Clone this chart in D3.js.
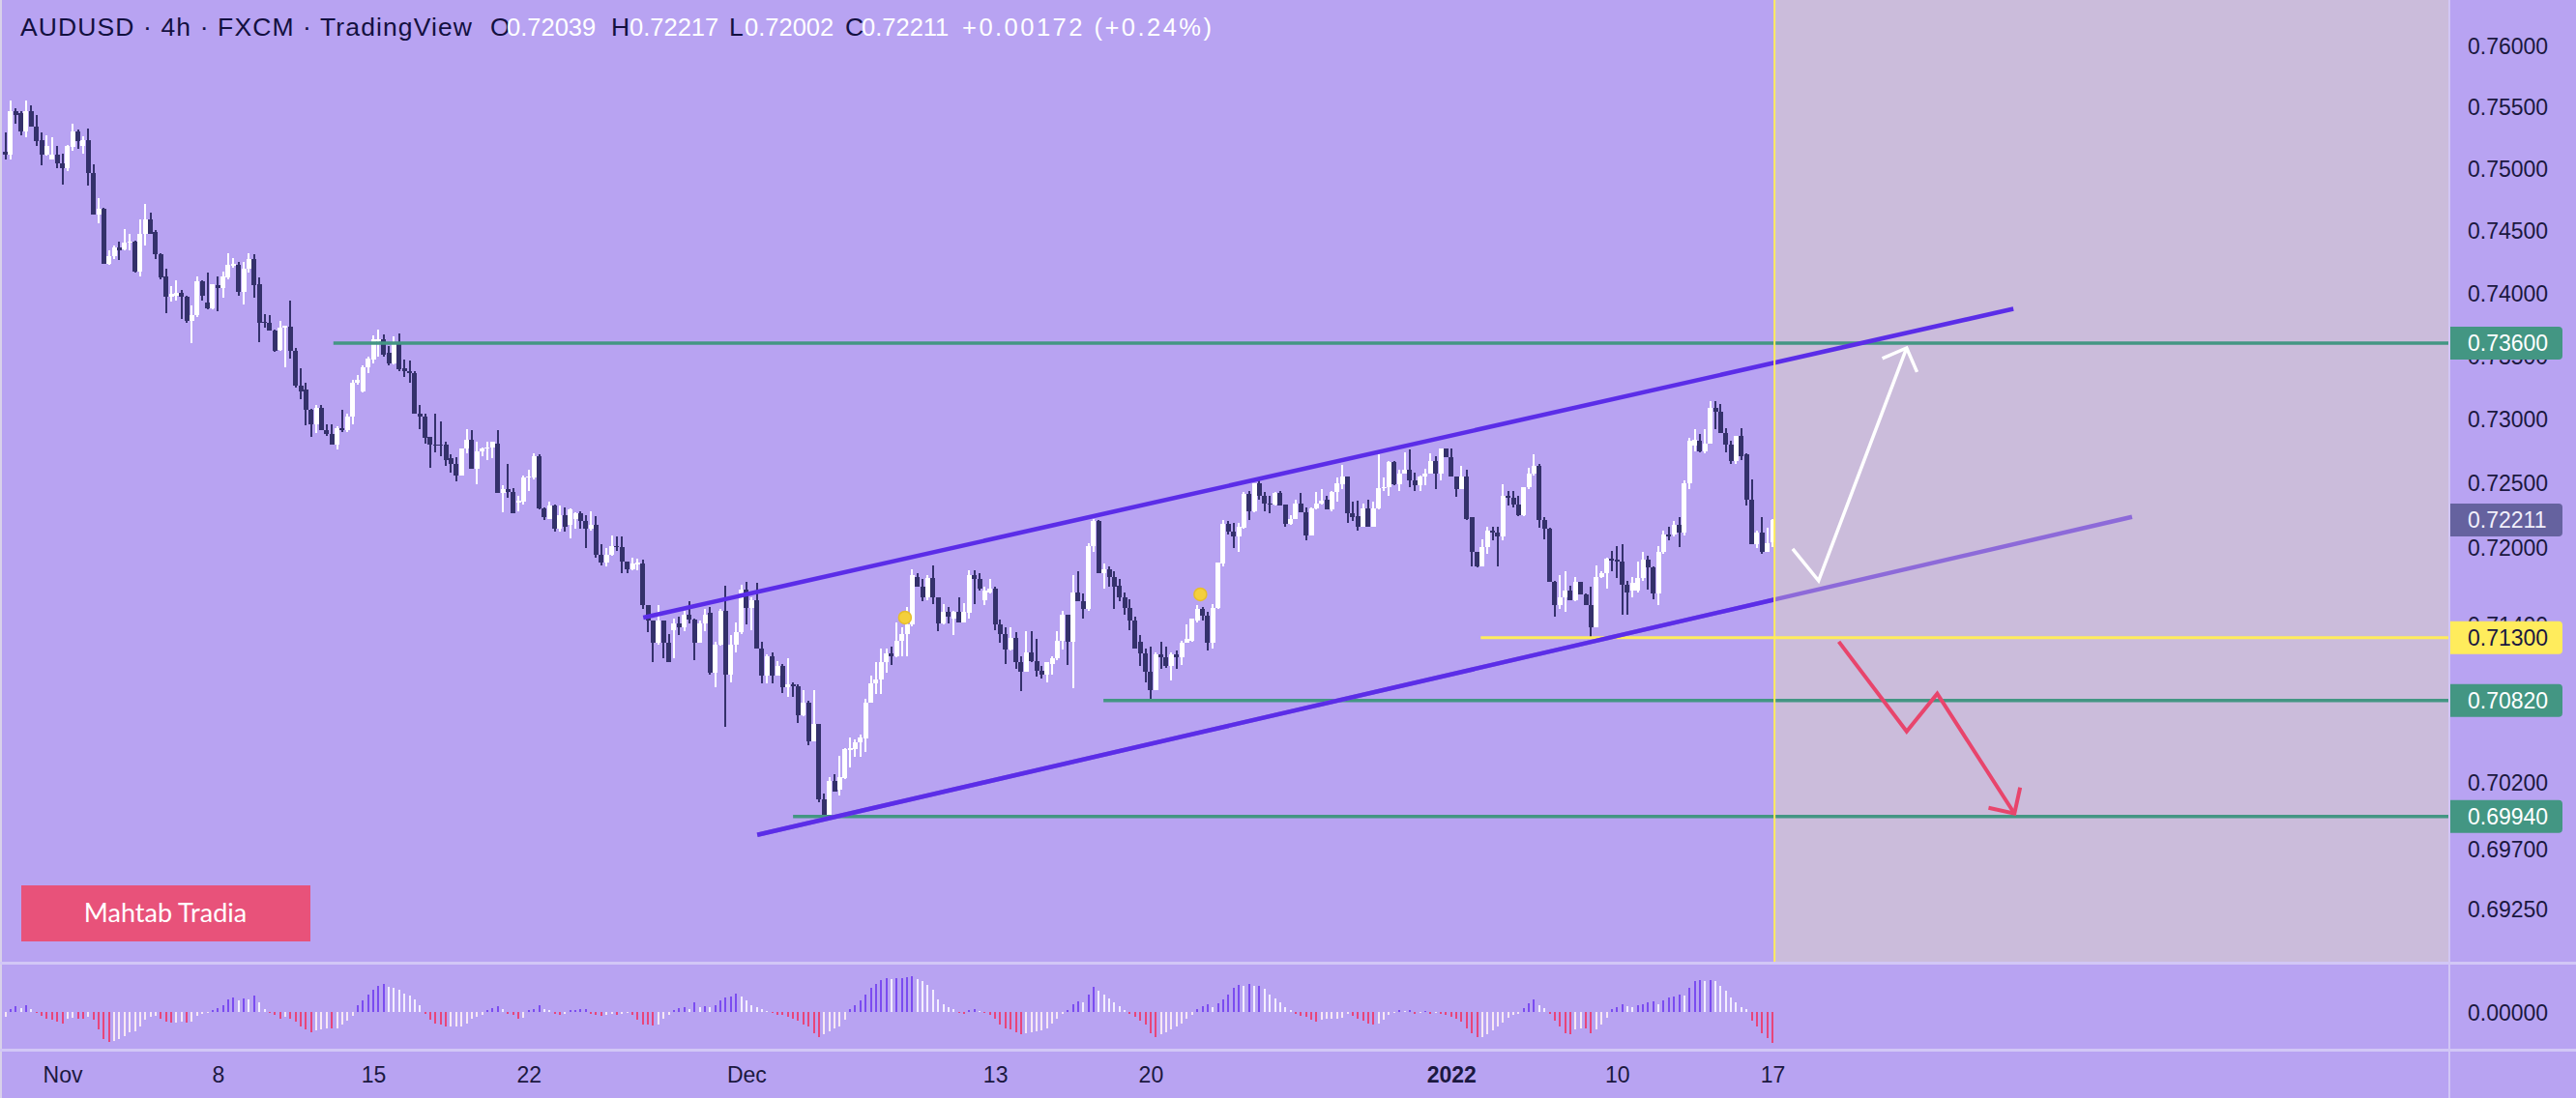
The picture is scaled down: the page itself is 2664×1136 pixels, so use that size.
<!DOCTYPE html>
<html><head><meta charset="utf-8">
<script src="https://cdn.jsdelivr.net/npm/d3@7"></script>
<style>html,body{margin:0;padding:0;background:#b8a3f2;overflow:hidden}</style>
</head><body>
<svg id="c" width="2664" height="1136" xmlns="http://www.w3.org/2000/svg"></svg>
<script>
// ---------------- DATA ----------------
const firstBar = -11; // bar index of first candle (index 0 = 1 Nov)
// [open, high, low, close]
const candles = [
[.7513,.7529,.7507,.7511],[.7511,.7555,.7507,.7546],[.7546,.7549,.7536,.7543],[.7545,.7546,.7527,.7530],[.7530,.7555,.7525,.7546],
[.7546,.7551,.7534,.7534],[.7534,.7543,.7518,.7522],[.7523,.7529,.7502,.7511],[.7511,.7527,.7510,.7518],[.7507,.7525,.7507,.7511],
[.7511,.7518,.7500,.7504],[.7504,.7512,.7487,.7500],[.7500,.7519,.7498,.7518],[.7517,.7536,.7514,.7530],[.7530,.7531,.7516,.7522],
[.7518,.7526,.7512,.7523],[.7523,.7532,.7486,.7496],[.7496,.7503,.7463,.7463],[.7463,.7476,.7456,.7467],[.7467,.7468,.7423,.7423],
[.7423,.7434,.7422,.7429],[.7429,.7438,.7427,.7436],[.7436,.7441,.7426,.7434],[.7435,.7451,.7434,.7440],[.7440,.7447,.7434,.7441],
[.7441,.7442,.7416,.7417],[.7417,.7459,.7413,.7447],[.7447,.7471,.7438,.7459],[.7459,.7464,.7447,.7447],[.7449,.7450,.7427,.7431],
[.7431,.7432,.7411,.7412],[.7413,.7419,.7384,.7397],[.7397,.7405,.7393,.7399],[.7398,.7410,.7394,.7400],[.7400,.7402,.7379,.7397],
[.7397,.7398,.7376,.7378],[.7378,.7390,.7360,.7382],[.7382,.7413,.7381,.7409],[.7409,.7410,.7394,.7398],[.7392,.7416,.7387,.7388],
[.7388,.7407,.7387,.7407],[.7406,.7413,.7385,.7404],[.7404,.7417,.7396,.7413],[.7412,.7432,.7411,.7422],[.7422,.7428,.7420,.7423],
[.7422,.7425,.7398,.7401],[.7401,.7425,.7391,.7419],[.7419,.7432,.7416,.7427],[.7427,.7431,.7396,.7406],[.7407,.7412,.7361,.7376],
[.7377,.7383,.7372,.7376],[.7376,.7382,.7370,.7370],[.7370,.7371,.7353,.7354],[.7355,.7378,.7354,.7372],[.7372,.7374,.7341,.7374],
[.7373,.7394,.7348,.7354],[.7354,.7356,.7325,.7326],[.7326,.7340,.7316,.7322],[.7323,.7329,.7295,.7307],[.7307,.7308,.7286,.7296],
[.7296,.7311,.7289,.7309],[.7309,.7311,.7291,.7291],[.7291,.7296,.7287,.7288],[.7288,.7296,.7280,.7280],[.7280,.7294,.7276,.7293],
[.7293,.7307,.7290,.7291],[.7291,.7304,.7290,.7302],[.7302,.7331,.7296,.7329],[.7329,.7335,.7327,.7331],[.7322,.7342,.7321,.7341],
[.7341,.7349,.7336,.7348],[.7347,.7366,.7344,.7363],[.7362,.7371,.7349,.7363],[.7363,.7367,.7349,.7351],[.7352,.7358,.7342,.7344],
[.7344,.7365,.7343,.7360],[.7360,.7368,.7338,.7339],[.7340,.7347,.7333,.7338],[.7338,.7346,.7329,.7336],[.7336,.7338,.7304,.7304],
[.7304,.7311,.7292,.7302],[.7302,.7304,.7281,.7285],[.7286,.7286,.7262,.7280],[.7280,.7304,.7274,.7279],[.7280,.7298,.7271,.7279],
[.7280,.7282,.7263,.7268],[.7269,.7272,.7258,.7265],[.7265,.7270,.7251,.7256],[.7256,.7277,.7256,.7277],[.7277,.7292,.7273,.7284],
[.7284,.7291,.7261,.7261],[.7261,.7282,.7249,.7275],[.7275,.7278,.7271,.7277],[.7277,.7282,.7268,.7278],[.7278,.7282,.7269,.7282],
[.7281,.7291,.7242,.7242],[.7242,.7248,.7227,.7245],[.7245,.7265,.7238,.7243],[.7243,.7246,.7226,.7226],[.7235,.7240,.7228,.7236],
[.7235,.7256,.7233,.7254],[.7254,.7260,.7244,.7255],[.7254,.7273,.7253,.7271],[.7271,.7272,.7229,.7230],[.7230,.7231,.7221,.7223],
[.7222,.7235,.7222,.7232],[.7232,.7233,.7212,.7214],[.7214,.7232,.7212,.7225],[.7225,.7231,.7212,.7216],[.7217,.7230,.7207,.7229],
[.7222,.7227,.7214,.7226],[.7226,.7228,.7214,.7220],[.7220,.7225,.7199,.7214],[.7214,.7228,.7213,.7217],[.7217,.7224,.7192,.7194],
[.7194,.7202,.7186,.7188],[.7188,.7199,.7185,.7194],[.7194,.7209,.7193,.7201],[.7201,.7208,.7197,.7200],[.7200,.7208,.7180,.7189],
[.7189,.7189,.7180,.7183],[.7183,.7192,.7182,.7187],[.7187,.7191,.7182,.7188],[.7187,.7190,.7152,.7155],[.7155,.7155,.7134,.7143],
[.7143,.7143,.7111,.7126],[.7126,.7155,.7125,.7143],[.7143,.7143,.7114,.7126],[.7126,.7133,.7111,.7111],[.7136,.7145,.7114,.7141],
[.7141,.7146,.7132,.7138],[.7138,.7151,.7135,.7148],[.7148,.7158,.7141,.7144],[.7144,.7145,.7113,.7126],[.7126,.7143,.7126,.7141],
[.7141,.7152,.7135,.7148],[.7149,.7154,.7102,.7103],[.7103,.7127,.7092,.7125],[.7125,.7152,.7124,.7151],[.7151,.7170,.7062,.7102],
[.7102,.7132,.7096,.7125],[.7125,.7142,.7119,.7134],[.7134,.7171,.7133,.7167],[.7167,.7173,.7140,.7153],[.7153,.7161,.7136,.7159],
[.7159,.7172,.7122,.7122],[.7122,.7127,.7095,.7101],[.7101,.7117,.7095,.7116],[.7116,.7119,.7095,.7101],[.7101,.7112,.7101,.7108],
[.7108,.7110,.7088,.7092],[.7092,.7114,.7085,.7094],[.7094,.7096,.7085,.7093],[.7093,.7094,.7065,.7071],[.7071,.7090,.7070,.7080],
[.7080,.7082,.7048,.7051],[.7051,.7090,.7051,.7064],[.7064,.7064,.7005,.7007],[.7007,.7011,.6994,.6994],[.6995,.7024,.6995,.7021],
[.7021,.7026,.7013,.7013],[.7014,.7040,.7010,.7024],[.7023,.7046,.7022,.7045],[.7044,.7054,.7031,.7046],[.7045,.7052,.7039,.7050],
[.7050,.7056,.7039,.7054],[.7053,.7083,.7043,.7080],[.7080,.7101,.7080,.7095],[.7095,.7111,.7087,.7098],[.7098,.7122,.7087,.7111],
[.7111,.7122,.7103,.7118],
[.7118,.7123,.7109,.7116],[.7116,.7142,.7115,.7128],[.7128,.7138,.7116,.7133],[.7133,.7154,.7116,.7140],[.7140,.7183,.7139,.7178],
[.7177,.7180,.7169,.7169],[.7169,.7175,.7158,.7161],[.7161,.7178,.7159,.7176],[.7176,.7186,.7156,.7161],[.7161,.7161,.7135,.7141],
[.7141,.7156,.7140,.7150],[.7150,.7154,.7141,.7146],[.7145,.7151,.7132,.7150],[.7150,.7161,.7142,.7142],[.7142,.7157,.7142,.7150],
[.7149,.7182,.7145,.7178],[.7178,.7182,.7156,.7175],[.7175,.7180,.7166,.7168],[.7159,.7169,.7155,.7166],[.7165,.7175,.7164,.7168],
[.7168,.7169,.7136,.7140],[.7140,.7144,.7126,.7133],[.7133,.7138,.7110,.7121],[.7121,.7138,.7120,.7130],[.7130,.7134,.7106,.7111],
[.7111,.7116,.7089,.7104],[.7104,.7135,.7104,.7119],[.7119,.7135,.7111,.7112],[.7112,.7129,.7100,.7105],[.7105,.7108,.7099,.7102],
[.7102,.7111,.7096,.7111],[.7110,.7116,.7102,.7114],[.7114,.7135,.7113,.7128],[.7128,.7151,.7121,.7148],[.7148,.7148,.7109,.7127],
[.7127,.7178,.7091,.7165],[.7165,.7181,.7158,.7158],[.7158,.7164,.7145,.7152],[.7152,.7203,.7151,.7201],[.7201,.7222,.7196,.7220],
[.7220,.7221,.7180,.7180],[.7180,.7187,.7168,.7183],[.7183,.7185,.7169,.7177],[.7177,.7181,.7152,.7169],[.7170,.7175,.7158,.7161],
[.7161,.7165,.7148,.7153],[.7153,.7160,.7136,.7143],[.7143,.7146,.7122,.7122],[.7127,.7132,.7108,.7118],[.7118,.7122,.7096,.7104],
[.7104,.7123,.7082,.7090],[.7090,.7119,.7090,.7117],[.7117,.7127,.7106,.7115],[.7115,.7123,.7107,.7108],[.7108,.7119,.7097,.7117],
[.7117,.7120,.7106,.7115],[.7115,.7128,.7109,.7126],[.7126,.7140,.7126,.7129],[.7128,.7145,.7127,.7145],[.7143,.7155,.7142,.7152],
[.7152,.7154,.7143,.7147],[.7147,.7150,.7120,.7126],[.7126,.7156,.7122,.7153],[.7153,.7188,.7152,.7188],[.7187,.7221,.7185,.7218],
[.7218,.7220,.7210,.7212],[.7212,.7219,.7199,.7208],[.7208,.7219,.7196,.7216],[.7215,.7243,.7214,.7241],[.7241,.7244,.7221,.7228],
[.7228,.7250,.7227,.7250],[.7250,.7252,.7237,.7240],[.7240,.7243,.7228,.7234],[.7234,.7240,.7226,.7233],[.7233,.7243,.7232,.7242],
[.7242,.7244,.7232,.7232],[.7233,.7233,.7216,.7218],[.7218,.7225,.7217,.7222],[.7222,.7237,.7222,.7234],[.7234,.7242,.7227,.7227],
[.7227,.7231,.7205,.7209],[.7209,.7231,.7209,.7230],[.7230,.7243,.7229,.7234],[.7234,.7245,.7233,.7236],[.7237,.7240,.7229,.7229],
[.7229,.7244,.7228,.7243],
[.7243,.7254,.7235,.7250],[.7249,.7264,.7245,.7255],[.7255,.7255,.7219,.7226],[.7226,.7235,.7220,.7223],[.7224,.7236,.7213,.7216],
[.7216,.7234,.7216,.7230],[.7230,.7237,.7216,.7216],[.7216,.7235,.7216,.7230],[.7230,.7272,.7229,.7246],[.7246,.7254,.7244,.7247],
[.7247,.7267,.7240,.7266],[.7266,.7267,.7248,.7249],[.7249,.7260,.7244,.7257],[.7257,.7274,.7257,.7260],[.7260,.7276,.7247,.7252],
[.7252,.7258,.7244,.7248],[.7248,.7256,.7244,.7255],[.7255,.7261,.7248,.7257],[.7257,.7273,.7257,.7267],[.7267,.7271,.7245,.7257],
[.7257,.7277,.7252,.7277],[.7277,.7277,.7270,.7270],[.7270,.7277,.7255,.7255],[.7255,.7255,.7239,.7245],[.7245,.7263,.7245,.7255],
[.7255,.7260,.7221,.7222],[.7223,.7223,.7185,.7196],[.7196,.7196,.7184,.7185],[.7185,.7206,.7185,.7200],[.7200,.7216,.7195,.7213],
[.7213,.7216,.7205,.7211],[.7211,.7216,.7185,.7208],[.7208,.7249,.7205,.7240],[.7240,.7244,.7232,.7238],[.7238,.7244,.7231,.7233],
[.7233,.7240,.7224,.7225],[.7225,.7247,.7224,.7247],[.7247,.7262,.7245,.7257],[.7257,.7272,.7256,.7263],[.7263,.7265,.7215,.7221],
[.7221,.7223,.7206,.7214],[.7214,.7215,.7173,.7173],[.7173,.7174,.7146,.7155],[.7155,.7178,.7152,.7161],[.7161,.7181,.7150,.7166],
[.7166,.7170,.7159,.7159],[.7159,.7177,.7158,.7173],[.7173,.7173,.7163,.7163],[.7163,.7164,.7155,.7155],[.7155,.7169,.7130,.7138],
[.7138,.7186,.7138,.7177],[.7177,.7181,.7176,.7180],[.7180,.7192,.7168,.7191],[.7191,.7197,.7181,.7190],[.7190,.7201,.7176,.7189],
[.7189,.7202,.7148,.7171],[.7171,.7174,.7148,.7165],[.7166,.7177,.7161,.7172],[.7166,.7189,.7165,.7176],[.7176,.7196,.7174,.7190],
[.7190,.7193,.7167,.7184],[.7184,.7185,.7160,.7164],[.7164,.7201,.7155,.7196],[.7196,.7213,.7195,.7210],[.7210,.7216,.7205,.7208],
[.7210,.7220,.7208,.7217],[.7217,.7223,.7200,.7211],[.7211,.7252,.7209,.7250],[.7250,.7285,.7245,.7283],[.7279,.7292,.7275,.7284],
[.7283,.7288,.7274,.7275],[.7275,.7292,.7273,.7281],[.7281,.7314,.7281,.7309],[.7309,.7314,.7292,.7306],[.7306,.7312,.7289,.7289],
[.7289,.7293,.7274,.7280],[.7280,.7283,.7265,.7267],[.7267,.7287,.7265,.7287],[.7287,.7293,.7268,.7271],[.7272,.7273,.7232,.7237],
[.7237,.7253,.7202,.7202],[.7202,.7213,.7199,.7211],[.7211,.7223,.7195,.7196],[.7196,.7215,.7196,.7203],[.72039,.72217,.72002,.72211]
];
// oscillator histogram (one value per candle)
const macdHist = [
-15,8,18,12,20,8,-3,-12,-20,-25,-30,-36,-22,-18,-20,-22,-15,-25,-55,-85,
-93,-90,-85,-75,-62,-60,-45,-25,-15,-12,-20,-30,-33,-32,-30,-33,-30,-12,-5,-3,
5,12,22,38,45,35,42,40,50,30,8,-3,-10,-22,-15,-20,-30,-45,-55,-62,
-58,-55,-50,-52,-50,-40,-28,-12,20,35,55,70,82,88,78,75,70,58,50,40,
20,-5,-25,-35,-40,-45,-45,-45,-45,-35,-20,-15,-8,5,12,18,8,-5,-10,-20,
-18,5,8,22,10,5,-5,-8,-5,5,5,8,10,-5,-10,-12,-8,-5,-8,-5,-3,-8,-25,-38,-40,-42,-38,
-20,-8,5,12,15,10,30,15,18,15,20,35,45,48,58,48,35,20,15,8,
3,-3,-8,-10,-15,-22,-28,-38,-45,-65,-78,-68,-60,-50,-45,-25,8,20,35,55,
75,88,100,105,102,105,105,108,110,102,95,85,68,40,25,15,10,-3,-5,5,
8,3,-3,-8,-20,-38,-50,-55,-62,-68,-65,-62,-60,-58,-50,-35,-20,-5,5,25,
32,30,55,78,65,55,42,30,18,5,-5,-15,-28,-40,-65,-78,-70,-62,-55,-45,
-35,-20,-8,8,18,25,15,28,40,55,75,85,82,88,80,82,72,55,42,30,
15,5,-5,-12,-15,-25,-30,-25,-22,-22,-20,-18,-5,-12,-22,-28,-35,-38,-35,-25,
-10,-3,5,3,5,-5,-3,3,-5,-3,-5,-8,-15,-20,-30,-50,-65,-78,
-78,-68,-58,-45,-32,-18,-8,-5,12,28,38,20,12,-5,-28,-45,-65,-68,-55,-50,
-52,-65,-55,-38,-18,8,15,25,18,15,20,25,30,32,25,35,45,48,55,52,
75,95,100,95,98,95,80,65,45,30,15,8,-28,-45,-65,-80,-95
];
const priceTicks = [0.76,0.755,0.75,0.745,0.74,0.735,0.73,0.725,0.72,0.714,0.708,0.702,0.697,0.6925];
const timeTickBars = [0,30,60,90,132,180,210,268,300,330];
const timeTickLabels = ["Nov","8","15","22","Dec","13","20","2022","10","17"];
// horizontal levels: price and starting bar
const levelPrices = [0.736,0.7082,0.6994,0.713];
const levelStartBars = [52.3,200.9,141.0,273.7];
const levelKinds = ["green","green","green","yellow"];
const lastPrice = 0.72211;
const legendTitle = "AUDUSD · 4h · FXCM · TradingView";
const legendKeys = ["O","H","L","C"];
const legendValues = ["0.72039","0.72217","0.72002","0.72211","+0.00172 (+0.24%)"];
// drawings in (bar, price)
const channelUpper = [[112.1,0.71455],[376.5,0.73872]];
const channelLower = [[134.1,0.69802],[399.4,0.72235]];
const markerDots = [[162.6,0.71455],[219.6,0.71634]];
const whiteArrow = [[333.9,0.71986],[338.9,0.71739],[355.9,0.73562]];
const whiteArrowHead = [[351.2,0.73478],[355.9,0.73562],[357.9,0.73371]];
const redArrow = [[342.8,0.71270],[355.9,0.70584],[361.8,0.70871],[376.7,0.69962]];
const redArrowHead = [[371.7,0.70006],[376.7,0.69962],[377.8,0.70159]];
const futureStartBar = 330.4;

// ---------------- LAYOUT / STYLE ----------------
const W = 2664, H = 1136;
const chartRight = 2532, pricePaneBottom = 995, histPaneBottom = 1085;
const C = {
  bg:"#b8a3f2", shade:"#cbbcdb", sep:"#d2c7f6", dark:"#34316b", light:"#ffffff",
  green:"#439683", yellow:"#ffec5c", channel:"#5b2de8", channelLight:"#8d6ad9",
  red:"#e8456c", text:"#1b1840", lastBox:"#65629f", dot:"#f4cf3c",
  hUp:"#7b4cf0", hUpFall:"#f3eeff", hDn:"#e8457a", hDnRise:"#f8e8f4", mahtab:"#e8527a"
};
const FONT = "'Liberation Sans', Arial, sans-serif";

const svg = d3.select("#c");
const x = d3.scaleLinear().domain([0,330]).range([64.5,1833]);
const y = d3.scaleLog().domain([0.68854,0.76372]).range([pricePaneBottom,0]);
const yH = d3.scaleLinear().domain([0,100]).range([1047,1013.7]);

svg.append("rect").attr("width",W).attr("height",H).attr("fill",C.bg);

const defs = svg.append("defs");
defs.append("clipPath").attr("id","pane").append("rect").attr("x",0).attr("y",0).attr("width",chartRight).attr("height",pricePaneBottom);
defs.append("clipPath").attr("id","solidPart").append("rect").attr("x",0).attr("y",0).attr("width",x(futureStartBar)).attr("height",pricePaneBottom);

const pane = svg.append("g").attr("clip-path","url(#pane)");
// future shaded area
pane.append("rect").attr("x",x(futureStartBar)).attr("y",0).attr("width",chartRight-x(futureStartBar)).attr("height",pricePaneBottom).attr("fill",C.shade);

// candles
const cg = pane.append("g").attr("shape-rendering","crispEdges");
candles.forEach((d,k)=>{
  const i = firstBar + k;
  const cx = x(i);
  const up = d[3] >= d[0];
  const col = up ? C.light : C.dark;
  cg.append("rect").attr("x",Math.round(cx-1)).attr("width",2)
    .attr("y",y(d[1])).attr("height",Math.max(1,y(d[2])-y(d[1]))).attr("fill",col);
  const top = y(Math.max(d[0],d[3])), bot = y(Math.min(d[0],d[3]));
  cg.append("rect").attr("x",Math.round(cx-2.5)).attr("width",5)
    .attr("y",top).attr("height",Math.max(1.5,bot-top)).attr("fill",col);
});

// horizontal levels
levelPrices.forEach((p,i)=>{
  pane.append("line").attr("x1",x(levelStartBars[i])).attr("x2",chartRight)
    .attr("y1",y(p)).attr("y2",y(p))
    .attr("stroke",levelKinds[i]==="green"?C.green:C.yellow).attr("stroke-width",levelKinds[i]==="green"?3.5:3);
});

const lineGen = d3.line().x(d=>x(d[0])).y(d=>y(d[1]));
// channel
pane.append("path").attr("d",lineGen(channelLower)).attr("stroke",C.channelLight).attr("stroke-width",4.5).attr("fill","none");
pane.append("path").attr("d",lineGen(channelLower)).attr("stroke",C.channel).attr("stroke-width",4.5).attr("fill","none").attr("clip-path","url(#solidPart)");
pane.append("path").attr("d",lineGen(channelUpper)).attr("stroke",C.channel).attr("stroke-width",4.5).attr("fill","none");

// dots
markerDots.forEach(d=>{
  pane.append("circle").attr("cx",x(d[0])).attr("cy",y(d[1])).attr("r",6.5).attr("fill",C.dot).attr("stroke","#e7bd2c").attr("stroke-width",1.5);
});

// arrows
pane.append("path").attr("d",lineGen(whiteArrow)).attr("stroke","#fff").attr("stroke-width",3.5).attr("fill","none").attr("stroke-linejoin","miter");
pane.append("path").attr("d",lineGen(whiteArrowHead)).attr("stroke","#fff").attr("stroke-width",3.5).attr("fill","none");
pane.append("path").attr("d",lineGen(redArrow)).attr("stroke",C.red).attr("stroke-width",4).attr("fill","none").attr("stroke-linejoin","miter");
pane.append("path").attr("d",lineGen(redArrowHead)).attr("stroke",C.red).attr("stroke-width",4).attr("fill","none");

// vertical line
pane.append("line").attr("x1",x(futureStartBar)).attr("x2",x(futureStartBar)).attr("y1",0).attr("y2",pricePaneBottom).attr("stroke",C.yellow).attr("stroke-width",2);

// histogram
const hg = svg.append("g").attr("shape-rendering","crispEdges");
const off = candles.length - macdHist.length;
macdHist.forEach((v,k)=>{
  const i = firstBar + k + off;
  const prev = k>0 ? macdHist[k-1] : v;
  let col;
  if (v >= 0) col = v >= prev ? C.hUp : C.hUpFall;
  else col = v < prev ? C.hDn : C.hDnRise;
  const y0 = yH(Math.max(0,v)), y1 = yH(Math.min(0,v));
  hg.append("rect").attr("x",Math.round(x(i)-1)).attr("width",2).attr("y",y0).attr("height",Math.max(1,y1-y0)).attr("fill",col);
});

// separators
svg.append("rect").attr("x",0).attr("y",0).attr("width",2).attr("height",H).attr("fill","#d9d1ea");
svg.append("line").attr("x1",0).attr("x2",W).attr("y1",pricePaneBottom+1.5).attr("y2",pricePaneBottom+1.5).attr("stroke",C.sep).attr("stroke-width",3);
svg.append("line").attr("x1",0).attr("x2",W).attr("y1",histPaneBottom+1.5).attr("y2",histPaneBottom+1.5).attr("stroke",C.sep).attr("stroke-width",3);
svg.append("line").attr("x1",chartRight+1).attr("x2",chartRight+1).attr("y1",0).attr("y2",H).attr("stroke",C.sep).attr("stroke-width",2);

// price axis
const yAxis = d3.axisRight(y).tickValues(priceTicks).tickFormat(d3.format(".5f")).tickSize(0).tickPadding(0);
const ya = svg.append("g").attr("transform","translate(2552,0)").call(yAxis);
ya.select(".domain").remove();
ya.selectAll("text").attr("font-family",FONT).attr("font-size",23).attr("fill",C.text).attr("dy","0.36em");

// hist axis label
const hAxis = d3.axisRight(yH).tickValues([0]).tickFormat(d3.format(".5f")).tickSize(0).tickPadding(0);
const ha = svg.append("g").attr("transform","translate(2552,0)").call(hAxis);
ha.select(".domain").remove();
ha.selectAll("text").attr("font-family",FONT).attr("font-size",23).attr("fill",C.text).attr("dy","0.36em");

// time axis
const xAxis = d3.axisBottom(x).tickValues(timeTickBars).tickFormat((d,i)=>timeTickLabels[i]).tickSize(0).tickPadding(0);
const xa = svg.append("g").attr("transform","translate(0,1104)").call(xAxis);
xa.select(".domain").remove();
xa.selectAll("text").attr("font-family",FONT).attr("font-size",23).attr("fill",C.text)
  .attr("font-weight",(d,i)=>timeTickLabels[i]==="2022"?"bold":"normal");

// price label boxes
function labelBox(p, bg, fg, txt){
  const cy = y(p), x0 = chartRight+2, x1 = 2650, h = 34, r = 4;
  const y0 = cy-h/2, y1 = cy+h/2;
  svg.append("path").attr("d",`M${x0},${y0}H${x1-r}Q${x1},${y0} ${x1},${y0+r}V${y1-r}Q${x1},${y1} ${x1-r},${y1}H${x0}Z`).attr("fill",bg);
  svg.append("text").attr("x",2552).attr("y",cy).attr("dy","0.36em").attr("font-family",FONT).attr("font-size",23).attr("fill",fg).text(txt);
}
const fmt5 = d3.format(".5f");
labelBox(lastPrice, C.lastBox, "#f2f0fb", fmt5(lastPrice));
levelPrices.forEach((p,i)=>{
  if(levelKinds[i]==="green") labelBox(p, C.green, "#ffffff", fmt5(p));
  else labelBox(p, C.yellow, C.text, fmt5(p));
});

// legend header
const hdr = svg.append("g").attr("font-family",FONT).attr("font-size",26.5);
const hy = 37;
hdr.append("text").attr("x",21).attr("y",hy).attr("fill","#131040")
  .attr("textLength",467).attr("lengthAdjust","spacing").text(legendTitle);
const keyX = [507,632,754,874], valX = [524,651,770,891];
legendKeys.forEach((k,i)=>{
  hdr.append("text").attr("x",keyX[i]).attr("y",hy).attr("fill","#131040").text(k);
  hdr.append("text").attr("x",valX[i]).attr("y",hy).attr("fill","#ffffff").attr("font-size",25.5).text(legendValues[i]);
});
hdr.append("text").attr("x",995).attr("y",hy).attr("fill","#ffffff").attr("font-size",25.5)
  .attr("textLength",258).attr("lengthAdjust","spacing").text(legendValues[4]);

// Mahtab Tradia tag
svg.append("rect").attr("x",22).attr("y",916).attr("width",299).attr("height",58).attr("fill",C.mahtab);
svg.append("text").attr("x",171).attr("y",945).attr("dy","0.35em").attr("text-anchor","middle")
  .attr("font-family","Lato, 'Open Sans', sans-serif").attr("font-size",27).attr("fill","#fff").text("Mahtab Tradia");
</script>
</body></html>
